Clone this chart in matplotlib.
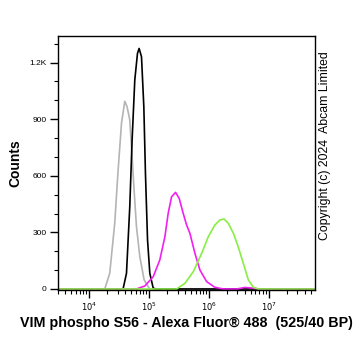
import numpy as np
import matplotlib
matplotlib.use("Agg")
import matplotlib.pyplot as plt
from matplotlib.ticker import LogLocator, FixedLocator, NullFormatter

plt.rcParams['font.family'] = ['Liberation Sans', 'DejaVu Sans']

# histogram outlines: log10(intensity), counts
gray_logx = [3.48, 4.26, 4.343, 4.427, 4.48, 4.54, 4.595, 4.633, 4.678, 4.717,
             4.75, 4.79, 4.846, 4.918, 5.01, 7.77]
gray_counts = [0, 0, 83, 350, 615, 880, 995, 966, 896, 701,
               525, 330, 171, 48, 0, 0]

black_logx = [3.48, 4.566, 4.623, 4.678, 4.717, 4.762, 4.807, 4.834, 4.874, 4.913,
              4.94, 4.975, 5.013, 5.07, 5.12, 7.77]
black_counts = [0, 0, 83, 436, 790, 1108, 1249, 1275, 1231, 966,
                613, 260, 83, 4, 0, 0]

magenta_logx = [3.48, 4.79, 4.93, 5.07, 5.18, 5.265, 5.32, 5.377, 5.444, 5.504,
                5.571, 5.628, 5.683, 5.767, 5.85, 5.963, 6.1, 6.24, 6.466, 6.6,
                6.72, 6.83, 7.77]
magenta_counts = [0, 0, 16, 65, 154, 277, 401, 489, 512, 480,
                  401, 339, 295, 189, 101, 39, 9, 0, 0, 8,
                  5, 0, 0]

green_logx = [3.48, 5.46, 5.6, 5.74, 5.88, 5.99, 6.10, 6.186, 6.253, 6.325,
              6.41, 6.49, 6.576, 6.66, 6.744, 6.83, 7.77]
green_counts = [0, 0, 30, 92, 189, 277, 339, 366, 371, 348,
                295, 224, 136, 48, 9, 0, 0]

y_ticks = [0, 300, 600, 900, 1200]
y_labels = ['0', '300', '600', '900', '1.2K']
x_ticks = [1e4, 1e5, 1e6, 1e7]
x_labels = ['$10^{4}$', '$10^{5}$', '$10^{6}$', '$10^{7}$']

fig = plt.figure(figsize=(3.62, 3.51), dpi=100)
ax = fig.add_axes([0.160, 0.174, 0.709, 0.724])

series = [
    (gray_logx, gray_counts, '#b4b4b4'),
    (black_logx, black_counts, '#000000'),
    (magenta_logx, magenta_counts, '#f020f0'),
    (green_logx, green_counts, '#88ee44'),
]
for lx, cnt, col in series:
    ax.plot(10 ** np.array(lx), cnt, color=col, lw=1.2)

ax.set_xscale('log')
ax.set_xlim(10 ** 3.477, 10 ** 7.767)
ax.set_ylim(-5, 1342)

ax.set_xticks(x_ticks)
ax.set_xticklabels(x_labels, fontsize=6)
ax.xaxis.set_minor_locator(LogLocator(base=10, subs=np.arange(2, 10), numticks=20))
ax.xaxis.set_minor_formatter(NullFormatter())

ax.set_yticks(y_ticks)
ax.set_yticklabels(y_labels, fontsize=6)
ax.yaxis.set_minor_locator(FixedLocator(np.arange(0, 1400, 100)))

ax.tick_params(which='major', direction='out', length=6, width=1, pad=2)
ax.tick_params(which='minor', direction='out', length=3, width=0.8)
for s in ax.spines.values():
    s.set_linewidth(1)

ax.set_xlabel('VIM phospho S56 - Alexa Fluor\u00ae 488  (525/40 BP)',
              fontsize=10.3, fontweight='bold', labelpad=2)
ax.set_ylabel('Counts', fontsize=10, fontweight='bold', labelpad=5)

fig.text(0.898, 0.585, 'Copyright (c) 2024  Abcam Limited', rotation=90,
         fontsize=8.8, ha='center', va='center')

fig.savefig('out.png', dpi=100)
